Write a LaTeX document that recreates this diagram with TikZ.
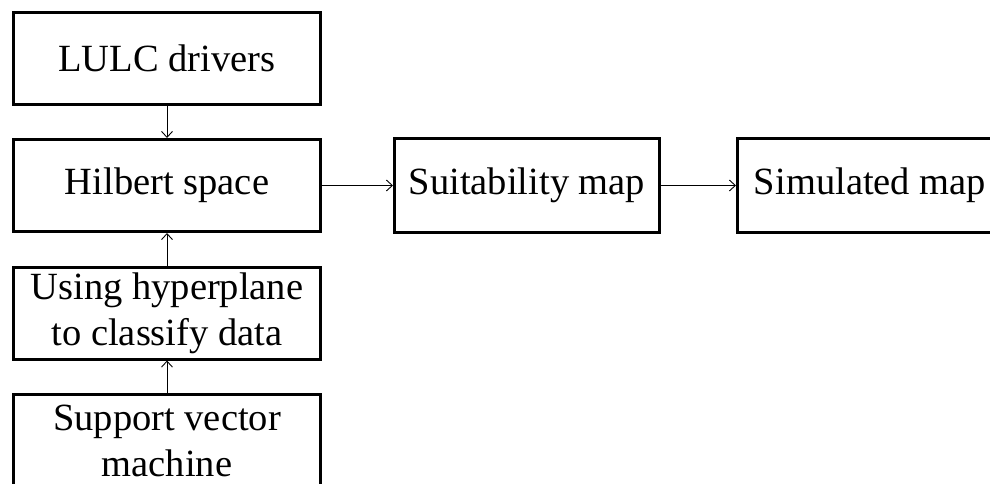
\documentclass[tikz,border=0pt]{standalone}
\usepackage{fontspec}
\setmainfont{Liberation Serif}
\usetikzlibrary{arrows.meta}
\begin{document}
\begin{tikzpicture}[x=1pt,y=-1pt,
  box/.style={draw=black,line width=3pt,fill=white,inner sep=0pt,
    font=\fontsize{38.5}{46}\selectfont,align=center},
  colbox/.style={box,minimum width=307pt,minimum height=92pt},
  rowbox/.style={box,minimum width=265pt,minimum height=93pt},
  link/.style={draw=black,line width=0.9pt,-{Straight Barb[length=6pt,width=11pt]}}]
\useasboundingbox (0,0) rectangle (990,484);
\clip (0,0) rectangle (990,484);
\node[colbox] (drivers) at (167,58.5) {LULC drivers};
\node[colbox] (hilbert) at (167,185.5) {Hilbert space};
\node[colbox] (hyper) at (167,313) {Using hyperplane\\to classify data};
\node[colbox] (svm) at (167,440.5) {Support vector\\machine};
\node[rowbox] (suit) at (527,185.5) {Suitability map};
\node[rowbox] (sim) at (870,185.5) {Simulated map};
\draw[link] (drivers) -- (hilbert);
\draw[link] (hyper) -- (hilbert);
\draw[link] (svm) -- (hyper);
\draw[link] (hilbert) -- (suit);
\draw[link] (suit) -- (sim);
\end{tikzpicture}
\end{document}
